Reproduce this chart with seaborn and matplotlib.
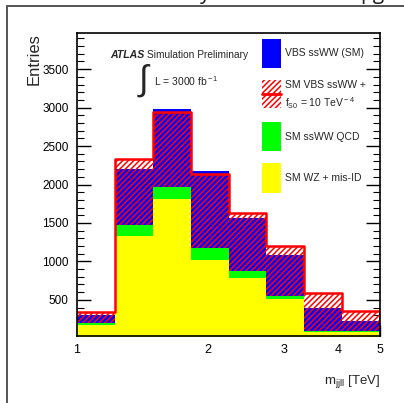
import numpy as np
import pandas as pd
import matplotlib
matplotlib.use("Agg")
import matplotlib.pyplot as plt
import seaborn as sns
from matplotlib.patches import Rectangle
from matplotlib.lines import Line2D
from matplotlib.ticker import FixedLocator, MultipleLocator, NullLocator, FixedFormatter

# ---------------- data ----------------
x_range = (1.0, 5.0)                 # m_jjll range [TeV]
n_bins = 8                           # equal-width bins in log(m_jjll)
bin_centers = [1.106, 1.352, 1.654, 2.022, 2.473, 3.024, 3.697, 4.521]
wz_misid = [171, 1336, 1810, 1020, 790, 513, 88, 86]      # SM WZ + mis-ID
ssww_qcd = [26, 131, 163, 152, 87, 39, 9, 10]             # SM ssWW QCD
vbs_sm = [108, 733, 1007, 1010, 693, 533, 303, 135]       # VBS ssWW (SM)
vbs_fs0 = [143, 863, 972, 967, 750, 650, 490, 265]        # SM VBS ssWW + fS0 = 10 TeV^-4
y_ticks = [500, 1000, 1500, 2000, 2500, 3000, 3500]
x_ticks = [1, 2, 3, 4, 5]
x_tick_labels = ["1", "2", "3", "4", "5"]

legend_labels = ["VBS ssWW (SM)", "SM VBS ssWW +", "SM ssWW QCD", "SM WZ + mis-ID"]

# ---------------- style ----------------
sns.set_theme(style="white")
FAM = ["Liberation Sans", "DejaVu Sans"]
plt.rcParams["font.family"] = FAM
plt.rcParams["mathtext.fontset"] = "custom"
plt.rcParams["mathtext.rm"] = "Liberation Sans"
plt.rcParams["mathtext.it"] = "Liberation Sans:italic"
plt.rcParams["mathtext.bf"] = "Liberation Sans:bold"
plt.rcParams["hatch.linewidth"] = 1.1

W, H = 404, 403
fig = plt.figure(figsize=(W / 100, H / 100), dpi=100)
fig.patch.set_facecolor("white")
L, R, T, B = 77, 380, 33, 336
ax = fig.add_axes([L / W, 1 - B / H, (R - L) / W, (B - T) / H])
ax.set_facecolor("white")

def fx(x):
    return x / W

def fy(y):
    return 1 - y / H

df = pd.DataFrame({"m": bin_centers, "wz": wz_misid, "qcd": ssww_qcd,
                   "vbs": vbs_sm, "fs0": vbs_fs0})
df["green_top"] = df["wz"] + df["qcd"]
df["blue_top"] = df["green_top"] + df["vbs"]
df["red_top"] = df["green_top"] + df["fs0"]

common = dict(x="m", bins=n_bins, binrange=(np.log10(x_range[0]), np.log10(x_range[1])),
              log_scale=True, element="step", ax=ax, data=df)

BLUE, RED, GREEN, YELLOW = "#0000ff", "#ff0000", "#00ff00", "#ffff00"

# SM stack top (blue)
sns.histplot(weights="blue_top", fill=True, color=BLUE, alpha=1, linewidth=0, **common)
# SM + fS0 hatched
sns.histplot(weights="red_top", fill=True, color=RED, alpha=1, linewidth=0, **common)
hcoll = ax.collections[-1]
hcoll.set_facecolor("none")
hcoll.set_edgecolor(RED)
hcoll.set_hatch("//////")
hcoll.set_linewidth(0)
# QCD (green) and WZ (yellow)
sns.histplot(weights="green_top", fill=True, color=GREEN, alpha=1, linewidth=0, **common)
sns.histplot(weights="wz", fill=True, color=YELLOW, alpha=1, linewidth=0, **common)
# red outline
sns.histplot(weights="red_top", fill=False, color=RED, linewidth=1.8, **common)
ax.plot([x_range[1], x_range[1]], [df["green_top"].iloc[-1], df["red_top"].iloc[-1]],
        color=RED, lw=1.8, solid_capstyle="butt")

ax.set_xscale("log")
ax.set_xlim(*x_range)
ax.set_ylim(30, 3970)
ax.set_xlabel("")
ax.set_ylabel("")

ax.xaxis.set_major_locator(FixedLocator(x_ticks))
ax.xaxis.set_major_formatter(FixedFormatter(x_tick_labels))
ax.xaxis.set_minor_locator(NullLocator())
ax.yaxis.set_major_locator(FixedLocator(y_ticks))
ax.yaxis.set_minor_locator(MultipleLocator(100))
ax.tick_params(axis="both", which="both", direction="in", colors="black")
ax.tick_params(axis="y", which="major", length=10, width=1, right=True, left=True,
               labelsize=8.5, pad=6)
ax.tick_params(axis="y", which="minor", length=5, width=0.8, right=True, left=True)
ax.tick_params(axis="x", which="major", length=8, width=1, top=False, bottom=True,
               labelsize=9, pad=6)
for s in ax.spines.values():
    s.set_visible(True)
    s.set_color("black")
    s.set_linewidth(1.2)

# axis titles
fig.text(fx(34), fy(33), "Entries", rotation=90, ha="center", va="top", fontsize=12)
fig.text(fx(380), fy(384), r"m$_{\rm jjll}$ [TeV]", ha="right", va="baseline", fontsize=9.5)

# ATLAS label
fig.text(fx(110), fy(57.5), "ATLAS", ha="left", va="baseline", fontsize=7.6,
         fontweight="bold", fontstyle="italic")
fig.text(fx(147), fy(57.5), "Simulation Preliminary", ha="left", va="baseline", fontsize=7.3)
fig.text(fx(144.5), fy(80.5), r"$\int$", ha="center", va="center", fontsize=25)
fig.text(fx(154), fy(86), r"L = 3000 fb$^{\rm -1}$", ha="left", va="baseline", fontsize=7.5)

# legend
bx0, bw = 262, 19
boxes = [(39, 68, BLUE), (80, 108, None), (122, 151, GREEN), (163, 193, YELLOW)]
for (y0, y1, col) in boxes:
    if col is None:
        r = Rectangle((fx(bx0), fy(y1)), bw / W, (y1 - y0) / H, transform=fig.transFigure,
                      facecolor="none", edgecolor=RED, hatch="//////", linewidth=0)
        fig.add_artist(r)
        fig.add_artist(Line2D([fx(bx0), fx(bx0 + bw)], [fy((y0 + y1) / 2)] * 2,
                              transform=fig.transFigure, color=RED, lw=2))
    else:
        r = Rectangle((fx(bx0), fy(y1)), bw / W, (y1 - y0) / H, transform=fig.transFigure,
                      facecolor=col, edgecolor="none")
        fig.add_artist(r)

LFS = 7.5
fig.text(fx(285), fy(53), legend_labels[0], ha="left", va="center", fontsize=LFS)
fig.text(fx(285), fy(85), legend_labels[1], ha="left", va="center", fontsize=LFS)
fig.text(fx(285), fy(103), r"f$_{\rm S0}$ = 10 TeV$^{\rm -4}$", ha="left", va="center",
         fontsize=LFS)
fig.text(fx(285), fy(137), legend_labels[2], ha="left", va="center", fontsize=LFS)
fig.text(fx(285), fy(178), legend_labels[3], ha="left", va="center", fontsize=LFS)

# outer frame
fig.add_artist(Line2D([fx(7), fx(404)], [fy(6), fy(6)], transform=fig.transFigure,
                      color="#555555", lw=1.4))
fig.add_artist(Line2D([fx(7), fx(7)], [fy(6), fy(403)], transform=fig.transFigure,
                      color="#555555", lw=1.4))
# cut-off caption fragments at the very top (as in the reference)
fig.text(fx(205), fy(-1), "y", ha="center", va="baseline", fontsize=15,
         family=["Open Sans", "DejaVu Sans"], color="#222222")
fig.text(fx(372), fy(-1), "pg", ha="center", va="baseline", fontsize=15,
         family=["Open Sans", "DejaVu Sans"], color="#222222")

fig.savefig("out.png", dpi=100, facecolor="white")
